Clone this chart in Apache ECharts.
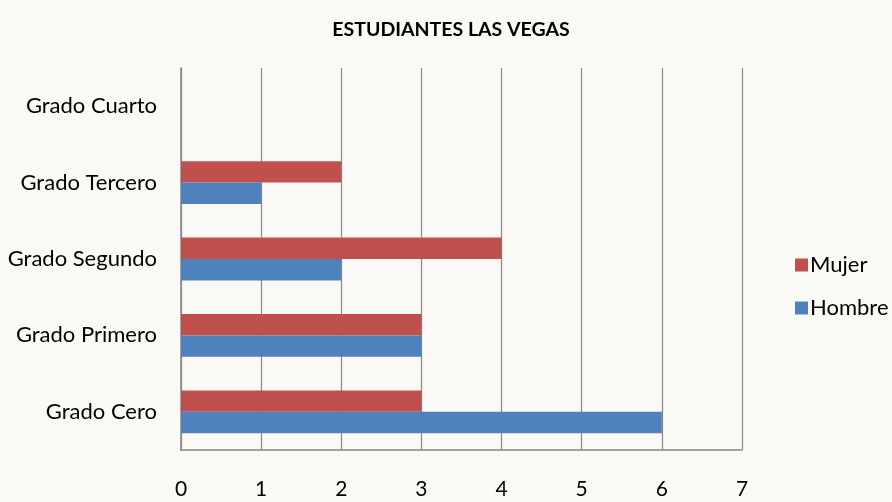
<!DOCTYPE html>
<html><head><meta charset="utf-8">
<script src="https://cdn.jsdelivr.net/npm/echarts@6/dist/echarts.min.js"></script>
<style>html,body{margin:0;padding:0;background:#fbf9f5;}#c{width:892px;height:502px;}</style>
</head><body><div id="c"></div>
<script>
const categories = ['Grado Cero','Grado Primero','Grado Segundo','Grado Tercero','Grado Cuarto'];
const hombre = [6, 3, 2, 1, 0];
const mujer = [3, 3, 4, 2, 0];
const xTicks = [0,1,2,3,4,5,6,7];

const chart = echarts.init(document.getElementById('c'));
chart.setOption({
  backgroundColor: '#fbf9f5',
  animation: false,
  title: {
    text: 'ESTUDIANTES LAS VEGAS',
    left: 446, top: 15, textAlign: 'center',
    textStyle: {fontFamily: 'Lato', fontWeight: 'bold', fontSize: 19.5, color: '#000'}
  },
  legend: {
    orient: 'vertical', left: 790, top: 249, itemGap: 21,
    itemWidth: 13, itemHeight: 13, icon: 'rect',
    data: ['Mujer','Hombre'],
    textStyle: {fontFamily: 'Lato', fontSize: 22, color: '#000', padding: [0,0,0,-3]}
  },
  grid: {left: 181, right: 150, top: 68, bottom: 52, containLabel: false},
  xAxis: {
    type: 'value', min: 0, max: xTicks[xTicks.length-1], interval: 1,
    axisLine: {show: true, lineStyle: {color: '#888', width: 1.5}},
    axisTick: {show: false},
    splitLine: {show: true, lineStyle: {color: '#888', width: 1.2}},
    axisLabel: {margin: 29, fontFamily: 'Lato', fontSize: 21, color: '#000'}
  },
  yAxis: {
    type: 'category', data: categories,
    axisLine: {show: true, lineStyle: {color: '#888', width: 1.5}},
    axisTick: {show: false},
    axisLabel: {margin: 24, fontFamily: 'Lato', fontSize: 22, color: '#000'}
  },
  series: [
    {name: 'Mujer', type: 'bar', data: mujer, barGap: '0%', barCategoryGap: '44%',
     itemStyle: {color: '#c0504d'}},
    {name: 'Hombre', type: 'bar', data: hombre, barGap: '0%', barCategoryGap: '44%',
     itemStyle: {color: '#4f81bd'}}
  ]
});
</script></body></html>
